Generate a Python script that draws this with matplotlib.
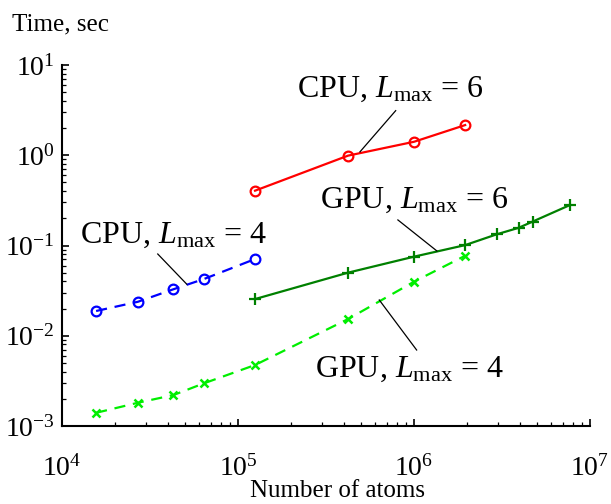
import numpy as np
import matplotlib
matplotlib.use('Agg')
import matplotlib.pyplot as plt

plt.rcParams['font.family'] = 'serif'
plt.rcParams['font.serif'] = ['Liberation Serif', 'DejaVu Serif']
plt.rcParams['mathtext.fontset'] = 'custom'
plt.rcParams['mathtext.rm'] = 'Liberation Serif'
plt.rcParams['mathtext.it'] = 'Liberation Serif:italic'
plt.rcParams['axes.unicode_minus'] = False

# number of atoms
n_small = [15625, 27000, 42875, 64000, 125000]
n_cpu6 = [125000, 421875, 1000000, 1953125]
n_gpu6 = [125000, 421875, 1000000, 1953125, 2950000, 3930000, 4720000, 7700000]
n_gpu4 = [15625, 27000, 42875, 64000, 125000, 421875, 1000000, 1953125]

# time, sec
t_cpu4 = [0.0188, 0.0238, 0.0327, 0.0425, 0.0708]
t_cpu6 = [0.405, 0.99, 1.41, 2.16]
t_gpu6 = [0.0255, 0.050, 0.0752, 0.101, 0.133, 0.157, 0.184, 0.281]
t_gpu4 = [0.0014, 0.00181, 0.0022, 0.00297, 0.00474, 0.0153, 0.0397, 0.077]

fig = plt.figure(figsize=(6.11, 5.04), dpi=100)
ax = fig.add_axes([62/611, 1-426/504, 528/611, 361/504])

ax.plot(n_cpu6, t_cpu6, '-o', color='#ff0000', lw=1.6, ms=7, mfc='none', mew=1.6)
ax.plot(n_small, t_cpu4, '--o', color='#0000ff', lw=1.6, ms=7, mfc='none', mew=1.6,
        dashes=(5, 3.5))
ax.plot(n_gpu6, t_gpu6, '-+', color='#008000', lw=1.6, ms=8, mew=1.6)
ax.plot(n_gpu4, t_gpu4, '--x', color='#00ee00', lw=1.6, ms=5.5, mew=1.8,
        dashes=(5, 3.5))

ax.set_xscale('log')
ax.set_yscale('log')
ax.set_xlim(1e4, 1e7)
ax.set_ylim(1e-3, 1e1)

for s in ['top', 'right']:
    ax.spines[s].set_visible(False)
for s in ['left', 'bottom']:
    ax.spines[s].set_linewidth(1.5)

ax.tick_params(which='both', direction='in', labelsize=20)
ax.tick_params(which='major', length=5, width=1.2)
ax.tick_params(which='minor', length=3, width=0.9)
ax.tick_params(axis='x', which='both', pad=21)
ax.tick_params(axis='y', which='both', pad=5)

fig.text(12/611, 1-30/504, 'Time, sec', fontsize=18, ha='left', va='baseline')
fig.text(337/611, 1-497/504, 'Number of atoms', fontsize=18, ha='center', va='baseline')

# labels and leader lines
lab = dict(fontsize=23, ha='center', va='baseline')
fig.text(390/611, 1-97/504, r'CPU, $L_{\rm max}$ = 6', **lab)
fig.text(414/611, 1-208/504, r'GPU, $L_{\rm max}$ = 6', **lab)
fig.text(173/611, 1-243/504, r'CPU, $L_{\rm max}$ = 4', **lab)
fig.text(409/611, 1-377/504, r'GPU, $L_{\rm max}$ = 4', **lab)

lk = dict(color='black', lw=0.9)
ax.plot([7.87e5, 4.93e5], [3.12, 1.09], **lk)
ax.plot([8.1e5, 1.35e6], [0.192, 0.0869], **lk)
ax.plot([3.5e4, 5.12e4], [0.0805, 0.0372], **lk)
ax.plot([6.35e5, 1.035e6], [0.0249, 0.00695], **lk)

fig.savefig('out.png', dpi=100)
